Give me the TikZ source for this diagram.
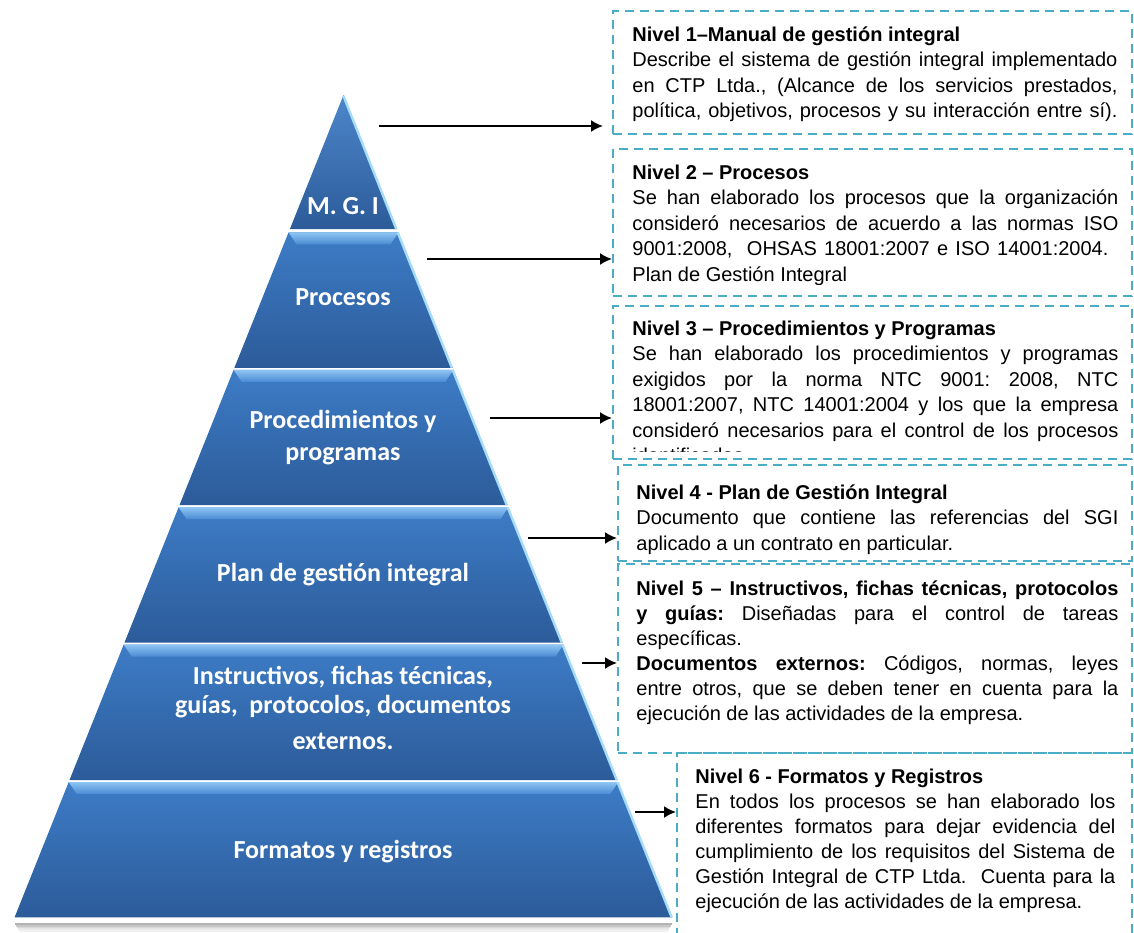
\documentclass[tikz,border=0pt]{standalone}
\usepackage{fontspec}
\setmainfont{Liberation Sans}
\newfontfamily\calib{Carlito}
\usetikzlibrary{arrows.meta}
\frenchspacing
\definecolor{boxc}{HTML}{4BACC6}
\definecolor{tTop}{HTML}{3D7CC6}
\definecolor{tBot}{HTML}{2C5B99}
\definecolor{bTop}{HTML}{8EC5F2}
\definecolor{bBot}{HTML}{4A8AD4}
\definecolor{hlc}{HTML}{A6DCF8}
\begin{document}
\begin{tikzpicture}[x=0.5pt,y=-0.5pt,
  dbox/.style={draw=boxc, dash pattern=on 4.5pt off 3pt, line width=1.1pt, inner sep=0, anchor=north west},
  arr/.style={-{Latex[length=6pt,width=6pt]}, line width=1pt, black},
  lbl/.style={text=white, font=\calib\bfseries\fontsize{13}{16}\selectfont, align=center, inner sep=0, anchor=base},
  txta/.style={anchor=base west, inner sep=0, align=left, text=black, font=\fontsize{10}{12.75}\selectfont},
  txtb/.style={anchor=base west, inner sep=0, align=left, text=black, font=\fontsize{10}{12.5}\selectfont},
  hl/.style={draw=hlc, line width=1.2pt},
]
\useasboundingbox (0,0) rectangle (1134,932);
\fill[white] (0,0) rectangle (1134,932);

% ---------- shadow under the pyramid ----------
\foreach \i/\o in {1/0.30,2/0.22,3/0.15,4/0.09,5/0.05}{
  \draw[black, opacity=\o, line width=0.9pt] ({14+\i},{922+1.8*\i}) -- ({673-\i},{922+1.8*\i});
}

% ---------- pyramid ----------
\shade[top color=tTop!92!white, bottom color=tBot] (343.5,95) -- ({343.5+0.4*134},229) -- ({343.5-0.4*134},229) -- cycle;
\draw[hl] (343.5,96) -- ({343.5+0.4*134-0.8},229);
\foreach \k in {1,...,5}{
  \pgfmathsetmacro\yt{95+137.4*\k}
  \pgfmathsetmacro\yb{95+137.4*(\k+1)-2}
  \pgfmathsetmacro\wt{0.4*(\yt-95)}
  \pgfmathsetmacro\wb{0.4*(\yb-95)}
  \shade[top color=tTop, bottom color=tBot] ({343.5-\wt},\yt) -- ({343.5+\wt},\yt) -- ({343.5+\wb},\yb) -- ({343.5-\wb},\yb) -- cycle;
  \shade[top color=bTop, bottom color=bBot] ({343.5-\wt},\yt) -- ({343.5+\wt},\yt) -- ({343.5+\wt-8},{\yt+12}) -- ({343.5-\wt+8},{\yt+12}) -- cycle;
  \draw[hl] ({343.5+\wt-0.8},\yt) -- ({343.5+\wb-0.8},\yb);
}

% ---------- pyramid labels (anchor = baseline of the last line) ----------
\node[lbl] (l1) at (343,214) {M. G. I};
\node[lbl] (l2) at (343,305) {Procesos};
\node[lbl] (l3) at (343,460) {Procedimientos y\\programas};
\node[lbl] (l4) at (343,581) {Plan de gestión integral};
\node[lbl] (l5) at (343,749) {Instructivos, fichas técnicas,\\[-1.5pt]guías,\ \ protocolos, documentos\\[2pt]externos.};
\node[lbl] (l6) at (343,858) {Formatos y registros};

% ---------- dashed boxes ----------
\node[dbox, minimum width=259.5pt, minimum height=61.5pt] (b1) at (612,10) {};
\node[dbox, minimum width=259.5pt, minimum height=73.5pt] (b2) at (612,148) {};
\node[dbox, minimum width=259.5pt, minimum height=76.5pt] (b3) at (612,305) {};
\node[dbox, minimum width=257pt, minimum height=48pt] (b4) at (617,464) {};
\node[dbox, minimum width=257pt, minimum height=94.5pt] (b5) at (617,563) {};
\node[dbox, minimum width=227.5pt, minimum height=110pt] (b6) at (676,752) {};

% ---------- box texts (anchor = baseline of the last line) ----------
\node[txta] (t1) at (632,117.5) {\textbf{Nivel 1–Manual de gestión integral}\\
\makebox[242.5pt][s]{Describe el sistema de gestión integral implementado}\\
\makebox[242.5pt][s]{en CTP Ltda., (Alcance de los servicios prestados,}\\
\makebox[242.5pt][s]{política, objetivos, procesos y su interacción entre sí).}};

\begin{scope}
\clip (600,140) rectangle (1134,284);
\node[txta] (t2) at (632,281) {\textbf{Nivel 2 – Procesos}\\
\makebox[243pt][s]{Se han elaborado los procesos que la organización}\\
\makebox[243pt][s]{consideró necesarios de acuerdo a las normas ISO}\\
\makebox[238pt][s]{9001:2008,\ \ OHSAS 18001:2007 e ISO 14001:2004.}\\
Plan de Gestión Integral};
\end{scope}

\begin{scope}
\clip (600,300) rectangle (1134,451);
\node[txta] (t3) at (632,462.5) {\textbf{Nivel 3 – Procedimientos y Programas}\\
\makebox[243pt][s]{Se han elaborado los procedimientos y programas}\\
\makebox[243pt][s]{exigidos por la norma NTC 9001: 2008, NTC}\\
\makebox[243pt][s]{18001:2007, NTC 14001:2004 y los que la empresa}\\
\makebox[243pt][s]{consideró necesarios para el control de los procesos}\\
identificados.};
\end{scope}

\node[txta] (t4) at (636,550) {\textbf{Nivel 4 - Plan de Gestión Integral}\\
\makebox[241pt][s]{Documento que contiene las referencias del SGI}\\
aplicado a un contrato en particular.};

\node[txtb] (t5) at (636,720) {\makebox[241pt][s]{\textbf{Nivel 5 – Instructivos, fichas técnicas, protocolos}}\\
\makebox[241pt][s]{\textbf{y guías:} Diseñadas para el control de tareas}\\
específicas.\\
\makebox[241pt][s]{\textbf{Documentos externos:} Códigos, normas, leyes}\\
\makebox[241pt][s]{entre otros, que se deben tener en cuenta para la}\\
ejecución de las actividades de la empresa.};

\node[txtb] (t6) at (695,908) {\textbf{Nivel 6 - Formatos y Registros}\\
\makebox[210pt][s]{En todos los procesos se han elaborado los}\\
\makebox[210pt][s]{diferentes formatos para dejar evidencia del}\\
\makebox[210pt][s]{cumplimiento de los requisitos del Sistema de}\\
\makebox[210pt][s]{Gestión Integral de CTP Ltda.\ \ Cuenta para la}\\
ejecución de las actividades de la empresa.};

% ---------- arrows ----------
\coordinate (s1) at (379,126);
\coordinate (e1) at (603,126);
\coordinate (s2) at (427,259);
\coordinate (s3) at (490,418);
\coordinate (s4) at (528,538);
\coordinate (s5) at (582,663);
\coordinate (s6) at (635,812);
\draw[arr] (s1) -- (e1);
\draw[arr] (s2) -- (s2 -| b2.west);
\draw[arr] (s3) -- (s3 -| b3.west);
\draw[arr] (s4) -- (s4 -| b4.west);
\draw[arr] (s5) -- (s5 -| b5.west);
\draw[arr] (s6) -- (s6 -| b6.west);
\end{tikzpicture}
\end{document}
